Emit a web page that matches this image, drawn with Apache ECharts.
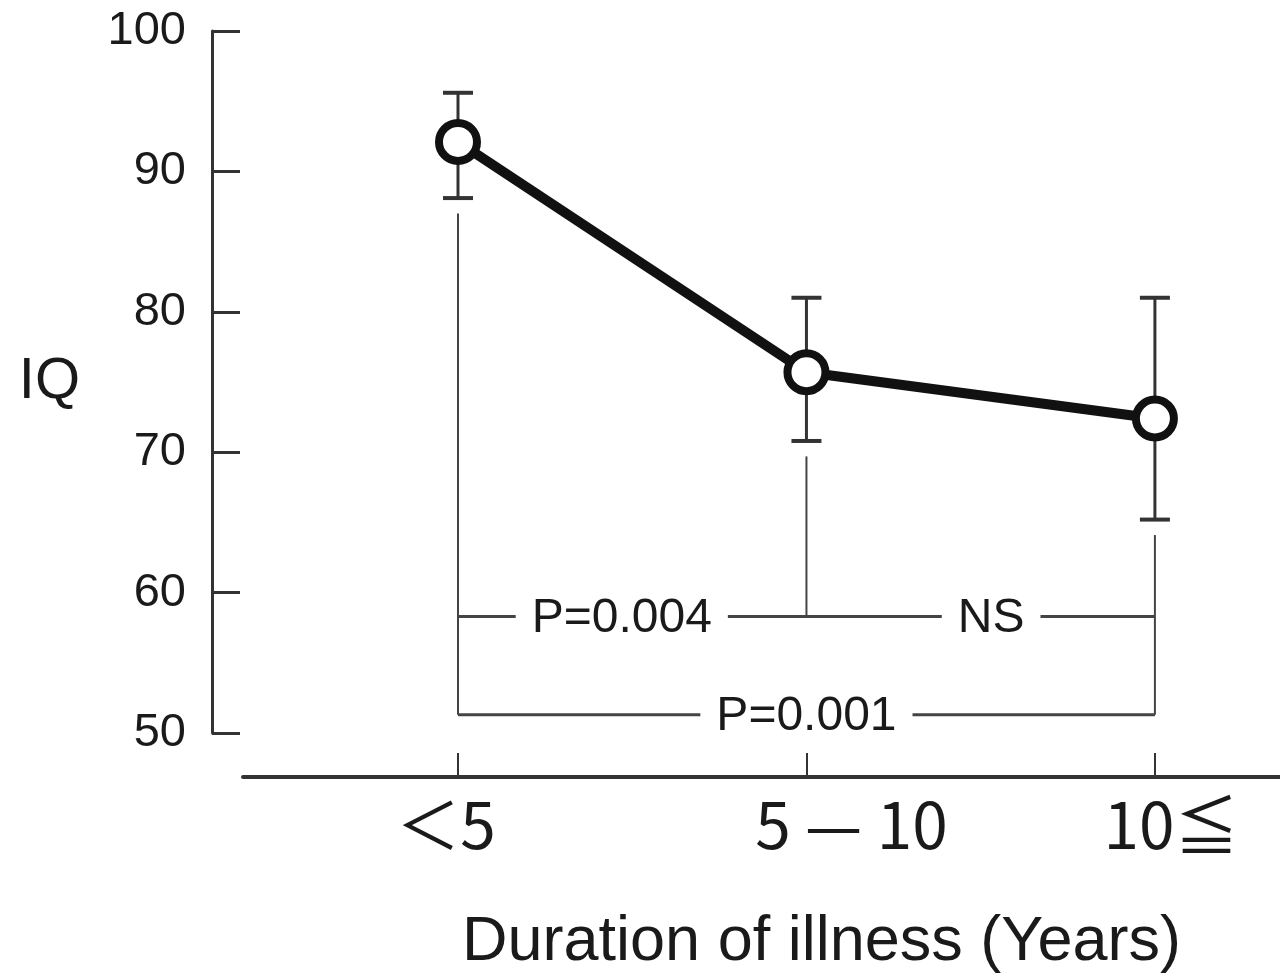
<!DOCTYPE html>
<html>
<head>
<meta charset="utf-8">
<title>IQ by duration of illness</title>
<script src="https://cdn.jsdelivr.net/npm/echarts@6/dist/echarts.min.js"></script>
<style>
  html, body { margin: 0; padding: 0; background: #fff; }
  #chart { width: 1280px; height: 976px; }
</style>
</head>
<body>
<div id="chart"></div>
<script>
// Groups of illness duration (years)
const categories = ['＜5', '5 — 10', '10≦'];
// Mean IQ per group and the ends of its error bar
const iqMean  = [92.1, 75.7, 72.4];
const iqUpper = [95.6, 81.0, 81.0];
const iqLower = [88.1, 70.8, 65.2];

// Significance brackets: drops [group, top, bottom], rails [from, to, level]
const bracketDrops  = [[0, 87.0, 51.3], [1, 69.7, 58.3], [2, 64.1, 51.3]];
const bracketRails  = [[0, 2, 58.3], [0, 2, 51.3]];
const bracketLabels = [['P=0.004', 0.47, 58.3], ['NS', 1.53, 58.3], ['P=0.001', 1.0, 51.3]];

const yMin = 50, yMax = 100, yStep = 10;

// horizontal nudge (px) of each group label relative to its tick
const labelShift = [-12, 45, 16];

const ink = '#111';
const axisInk = '#333';
const textInk = '#1a1a1a';
const sansFont = "'Liberation Sans', Arial, 'Noto Sans', sans-serif";
const cjkFont = "'Noto Sans CJK JP', 'Noto Sans', sans-serif";

const chart = echarts.init(document.getElementById('chart'));

const groupIdx = categories.map((_, i) => i);

const richLabels = {};
groupIdx.forEach(i => {
  const s = labelShift[i];
  richLabels['g' + i] = {
    fontSize: 64,
    fontFamily: cjkFont,
    color: textInk,
    padding: s >= 0 ? [0, 0, 0, 2 * s] : [0, -2 * s, 0, 0]
  };
});

chart.setOption({
  animation: false,
  backgroundColor: '#fff',
  grid: { left: 243, right: 0, top: 31, bottom: 243, outerBoundsMode: 'none', containLabel: false },
  xAxis: {
    type: 'value',
    min: -0.617,
    max: 2.359,
    offset: 44,
    splitLine: { show: false },
    axisLine: { show: true, onZero: false, lineStyle: { color: axisInk, width: 4 } },
    axisTick: {
      show: true, inside: true, length: 24,
      customValues: groupIdx,
      lineStyle: { color: axisInk, width: 2 }
    },
    axisLabel: {
      customValues: groupIdx,
      margin: 16,
      rich: richLabels,
      formatter: v => {
        const i = Math.round(v);
        return '{g' + i + '|' + categories[i] + '}';
      }
    },
    name: 'Duration of illness (Years)',
    nameLocation: 'middle',
    nameGap: 134,
    nameTextStyle: {
      fontSize: 63,
      color: textInk,
      fontFamily: sansFont,
      padding: [0, 0, 0, 120]
    }
  },
  yAxis: {
    type: 'value',
    min: yMin,
    max: yMax,
    interval: yStep,
    offset: 31,
    splitLine: { show: false },
    axisLine: { show: true, onZero: false, lineStyle: { color: axisInk, width: 3 } },
    axisTick: { show: true, inside: true, length: 28, lineStyle: { color: axisInk, width: 3 } },
    axisLabel: { margin: 26, fontSize: 47, color: textInk, fontFamily: sansFont },
    name: 'IQ',
    nameLocation: 'middle',
    nameRotate: 0,
    nameGap: 132,
    nameTextStyle: { fontSize: 58, color: textInk, fontFamily: sansFont }
  },
  series: [
    {
      // vertical legs of the significance brackets
      type: 'custom',
      z: 1,
      data: bracketDrops,
      renderItem(params, api) {
        const top = api.coord([api.value(0), api.value(1)]);
        const bot = api.coord([api.value(0), api.value(2)]);
        return {
          type: 'line',
          shape: { x1: top[0], y1: top[1], x2: bot[0], y2: bot[1] },
          style: { stroke: '#444', lineWidth: 2 }
        };
      }
    },
    {
      // horizontal rails of the significance brackets
      type: 'custom',
      z: 1,
      data: bracketRails,
      renderItem(params, api) {
        const a = api.coord([api.value(0), api.value(2)]);
        const b = api.coord([api.value(1), api.value(2)]);
        return {
          type: 'line',
          shape: { x1: a[0], y1: a[1], x2: b[0], y2: b[1] },
          style: { stroke: '#444', lineWidth: 3 }
        };
      }
    },
    {
      // p-value captions sitting on the rails
      type: 'custom',
      z: 3,
      data: bracketLabels.map(d => [d[1], d[2]]),
      renderItem(params, api) {
        const p = api.coord([api.value(0), api.value(1)]);
        return {
          type: 'text',
          z2: 10,
          style: {
            text: bracketLabels[params.dataIndex][0],
            x: p[0], y: p[1] + 2,
            align: 'center', verticalAlign: 'middle',
            fontSize: 48, fontFamily: sansFont, fill: textInk,
            backgroundColor: '#fff',
            padding: [2, 16]
          }
        };
      }
    },
    {
      // error bars with caps
      type: 'custom',
      z: 2,
      data: groupIdx.map(i => [i, iqUpper[i], iqLower[i]]),
      renderItem(params, api) {
        const hi = api.coord([api.value(0), api.value(1)]);
        const lo = api.coord([api.value(0), api.value(2)]);
        const cap = 15;
        return {
          type: 'group',
          children: [
            { type: 'line', shape: { x1: hi[0], y1: hi[1], x2: lo[0], y2: lo[1] }, style: { stroke: '#333', lineWidth: 3 } },
            { type: 'line', shape: { x1: hi[0] - cap, y1: hi[1], x2: hi[0] + cap, y2: hi[1] }, style: { stroke: '#333', lineWidth: 4 } },
            { type: 'line', shape: { x1: lo[0] - cap, y1: lo[1], x2: lo[0] + cap, y2: lo[1] }, style: { stroke: '#333', lineWidth: 4 } }
          ]
        };
      }
    },
    {
      name: 'IQ',
      type: 'line',
      z: 5,
      data: groupIdx.map(i => [i, iqMean[i]]),
      symbol: 'circle',
      symbolSize: 38,
      lineStyle: { color: ink, width: 10 },
      itemStyle: { color: '#fff', borderColor: ink, borderWidth: 8 }
    }
  ]
});
</script>
</body>
</html>
